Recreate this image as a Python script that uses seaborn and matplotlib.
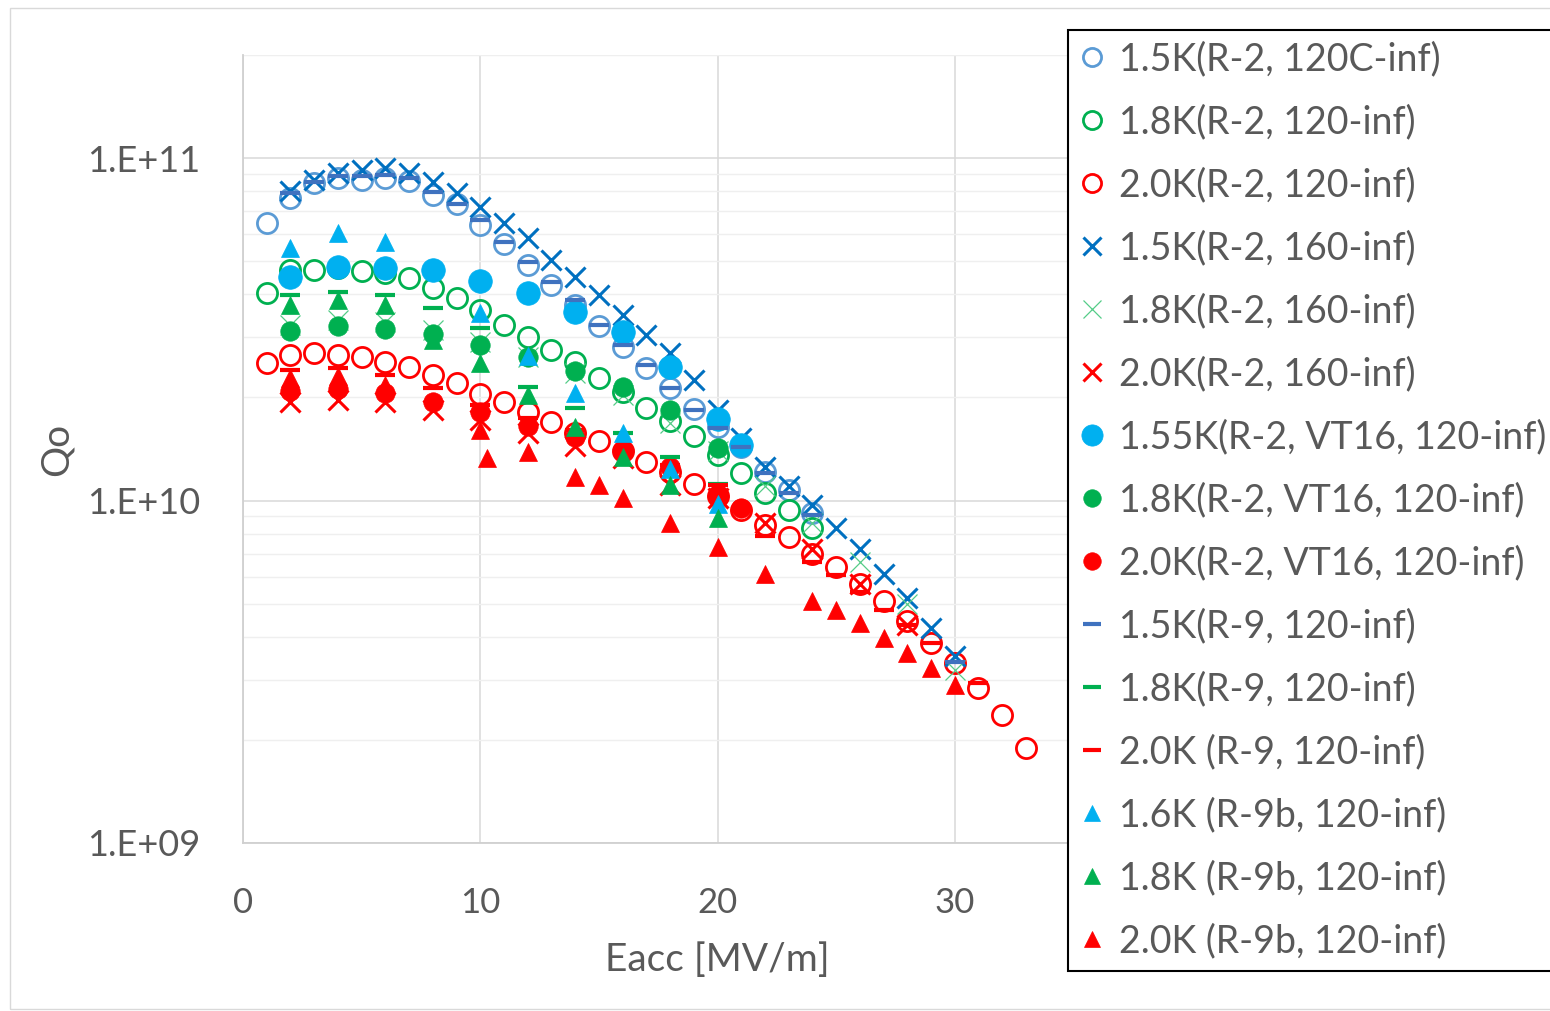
import numpy as np
import pandas as pd
import matplotlib
matplotlib.use("Agg")
import matplotlib.pyplot as plt
import matplotlib.ticker as mticker
from matplotlib.patches import Rectangle
import seaborn as sns

# ---- data (Eacc [MV/m], Qo) ----
r2_15k_120_x = list(range(1, 25))
r2_15k_120_q = [6.46e10, 7.64e10, 8.45e10, 8.74e10, 8.63e10, 8.74e10, 8.57e10, 7.80e10,
                7.34e10, 6.37e10, 5.61e10, 4.87e10, 4.26e10, 3.72e10, 3.23e10, 2.81e10,
                2.44e10, 2.13e10, 1.85e10, 1.64e10, 1.43e10, 1.21e10, 1.07e10, 9.2e9]

r2_18k_120_x = list(range(1, 25))
r2_18k_120_q = [4.03e10, 4.71e10, 4.71e10, 4.77e10, 4.68e10, 4.62e10, 4.46e10, 4.17e10,
                3.90e10, 3.60e10, 3.25e10, 3.00e10, 2.75e10, 2.54e10, 2.28e10, 2.07e10,
                1.86e10, 1.71e10, 1.54e10, 1.36e10, 1.20e10, 1.05e10, 9.4e9, 8.3e9]

r2_20k_120_x = list(range(1, 34))
r2_20k_120_q = [2.52e10, 2.66e10, 2.70e10, 2.66e10, 2.62e10, 2.54e10, 2.45e10, 2.32e10,
                2.20e10, 2.05e10, 1.94e10, 1.81e10, 1.70e10, 1.58e10, 1.49e10, 1.40e10,
                1.30e10, 1.21e10, 1.12e10, 1.03e10, 9.4e9, 8.5e9, 7.8e9, 7.0e9, 6.4e9,
                5.7e9, 5.1e9, 4.45e9, 3.84e9, 3.35e9, 2.84e9, 2.36e9, 1.89e9]

r2_15k_160_x = list(range(2, 31))
r2_15k_160_q = [8.01e10, 8.63e10, 9.04e10, 9.23e10, 9.35e10, 9.04e10, 8.51e10, 7.90e10,
                7.19e10, 6.46e10, 5.84e10, 5.04e10, 4.49e10, 3.98e10, 3.48e10, 3.04e10,
                2.70e10, 2.25e10, 1.84e10, 1.52e10, 1.25e10, 1.10e10, 9.7e9, 8.3e9,
                7.2e9, 6.1e9, 5.2e9, 4.24e9, 3.52e9]

r2_18k_160_x = list(range(2, 31, 2))
r2_18k_160_q = [3.25e10, 3.37e10, 3.32e10, 3.15e10, 2.90e10, 2.62e10, 2.36e10, 2.03e10,
                1.68e10, 1.40e10, 1.10e10, 8.6e9, 6.6e9, 5.0e9, 3.2e9]

r2_20k_160_x = list(range(2, 29, 2))
r2_20k_160_q = [1.94e10, 1.97e10, 1.94e10, 1.84e10, 1.72e10, 1.58e10, 1.44e10, 1.33e10,
                1.11e10, 1.02e10, 8.6e9, 7.2e9, 5.7e9, 4.33e9]

vt16_155k_x = [2, 4, 6, 8, 10, 12, 14, 16, 18, 20, 21]
vt16_155k_q = [4.49e10, 4.81e10, 4.77e10, 4.71e10, 4.37e10, 4.03e10, 3.55e10, 3.10e10,
               2.45e10, 1.73e10, 1.45e10]

vt16_18k_x = [2, 4, 6, 8, 10, 12, 14, 16, 18, 20]
vt16_18k_q = [3.13e10, 3.23e10, 3.17e10, 3.06e10, 2.84e10, 2.62e10, 2.39e10, 2.15e10,
              1.84e10, 1.42e10]

vt16_20k_x = [2, 4, 6, 8, 10, 12, 14, 16, 18, 20, 21]
vt16_20k_q = [2.09e10, 2.12e10, 2.06e10, 1.94e10, 1.81e10, 1.65e10, 1.53e10, 1.40e10,
              1.25e10, 1.04e10, 9.5e9]

r9_15k_x = list(range(2, 25)) + [30]
r9_15k_q = [7.90e10, 8.51e10, 8.86e10, 8.86e10, 8.92e10, 8.74e10, 7.95e10, 7.34e10,
            6.59e10, 5.68e10, 4.97e10, 4.35e10, 3.85e10, 3.25e10, 2.84e10, 2.49e10,
            2.13e10, 1.84e10, 1.63e10, 1.43e10, 1.20e10, 1.05e10, 9.1e9, 3.38e9]

r9_18k_x = [2, 4, 6, 8, 10, 12, 14, 16, 18, 20]
r9_18k_q = [3.98e10, 4.06e10, 3.98e10, 3.65e10, 3.19e10, 2.15e10, 1.86e10, 1.58e10,
            1.34e10, 1.12e10]

r9_20k_x = [2, 4, 6, 8, 10, 12, 14, 16, 18, 20, 22, 24, 25, 26, 27, 28, 29, 31]
r9_20k_q = [2.40e10, 2.44e10, 2.32e10, 2.13e10, 1.90e10, 1.74e10, 1.61e10, 1.40e10,
            1.27e10, 1.11e10, 7.9e9, 6.6e9, 6.06e9, 5.4e9, 4.79e9, 4.33e9, 3.84e9, 2.93e9]

r9b_16k_x = [2, 4, 6, 10, 12, 14, 16, 18, 20]
r9b_16k_q = [5.46e10, 6.04e10, 5.68e10, 3.53e10, 2.64e10, 2.06e10, 1.58e10, 1.24e10, 9.8e9]

r9b_18k_x = [2, 4, 6, 8, 10, 12, 14, 16, 18, 20]
r9b_18k_q = [3.72e10, 3.85e10, 3.72e10, 2.94e10, 2.52e10, 2.03e10, 1.64e10, 1.34e10,
             1.11e10, 8.9e9]

r9b_20k_x = [2, 4, 6, 10, 10.3, 12, 14, 15, 16, 18, 20, 22, 24, 25, 26, 27, 28, 29, 30]
r9b_20k_q = [2.28e10, 2.31e10, 2.17e10, 1.61e10, 1.33e10, 1.39e10, 1.17e10, 1.11e10,
             1.02e10, 8.6e9, 7.3e9, 6.1e9, 5.1e9, 4.79e9, 4.39e9, 3.97e9, 3.59e9,
             3.24e9, 2.89e9]

labels = ["1.5K(R-2, 120C-inf)", "1.8K(R-2, 120-inf)", "2.0K(R-2, 120-inf)",
          "1.5K(R-2, 160-inf)", "1.8K(R-2, 160-inf)", "2.0K(R-2, 160-inf)",
          "1.55K(R-2, VT16, 120-inf)", "1.8K(R-2, VT16, 120-inf)", "2.0K(R-2, VT16, 120-inf)",
          "1.5K(R-9, 120-inf)", "1.8K(R-9, 120-inf)", "2.0K (R-9, 120-inf)",
          "1.6K (R-9b, 120-inf)", "1.8K (R-9b, 120-inf)", "2.0K (R-9b, 120-inf)"]

series = [(r2_15k_120_x, r2_15k_120_q), (r2_18k_120_x, r2_18k_120_q), (r2_20k_120_x, r2_20k_120_q),
          (r2_15k_160_x, r2_15k_160_q), (r2_18k_160_x, r2_18k_160_q), (r2_20k_160_x, r2_20k_160_q),
          (vt16_155k_x, vt16_155k_q), (vt16_18k_x, vt16_18k_q), (vt16_20k_x, vt16_20k_q),
          (r9_15k_x, r9_15k_q), (r9_18k_x, r9_18k_q), (r9_20k_x, r9_20k_q),
          (r9b_16k_x, r9b_16k_q), (r9b_18k_x, r9b_18k_q), (r9b_20k_x, r9b_20k_q)]

BLUE_L = "#5B9BD5"
BLUE = "#0070C0"
BLUE_D = "#3F72BF"
CYAN = "#00B0F0"
GREEN = "#00B050"
GREEN_L = "#55CC88"
RED = "#FF0000"

# marker styles per series: (marker, color, size, filled, edge width)
styles = [("o", BLUE_L, 14.5, False, 2.0), ("o", GREEN, 14.5, False, 2.0), ("o", RED, 14.5, False, 2.0),
          ("x", BLUE, 14.5, False, 2.2), ("x", GREEN_L, 14.5, False, 0.9), ("x", RED, 14.5, False, 2.2),
          ("o", CYAN, 17, True, 0), ("o", GREEN, 14, True, 0), ("o", RED, 14, True, 0),
          ("_", BLUE_D, 15, False, 3.0), ("_", GREEN, 15, False, 3.0), ("_", RED, 15, False, 3.0),
          ("^", CYAN, 13.5, True, 0), ("^", GREEN, 13.5, True, 0), ("^", RED, 13.5, True, 0)]

sns.set_style("white")
plt.rcParams["font.family"] = ["Lato", "DejaVu Sans"]

fig = plt.figure(figsize=(15.5, 10.11), dpi=100)
# plot area runs to Eacc = 40, the legend box covers its right part
ax = fig.add_axes([243 / 1550, 1 - 843 / 1011, (1192 - 243) / 1550, (843 - 55) / 1011])

handles = []
for (xs, qs), (mk, col, ms, filled, mew), lab in zip(series, styles, labels):
    df = pd.DataFrame({"Eacc": xs, "Qo": qs})
    if filled:
        h, = ax.plot(df["Eacc"], df["Qo"], linestyle="none", marker=mk, markersize=ms,
                     markerfacecolor=col, markeredgecolor=col, markeredgewidth=0.5, label=lab)
    elif mk == "o":
        h, = ax.plot(df["Eacc"], df["Qo"], linestyle="none", marker=mk, markersize=ms,
                     markerfacecolor="none", markeredgecolor=col, markeredgewidth=mew, label=lab)
    else:
        h, = ax.plot(df["Eacc"], df["Qo"], linestyle="none", marker=mk, markersize=ms,
                     color=col, markeredgewidth=mew, label=lab)
    handles.append(h)

ax.set_yscale("log")
ax.set_xlim(0, 40)
ax.set_ylim(1e9, 2e11)
ax.set_xticks([0, 10, 20, 30])
ax.yaxis.set_major_locator(mticker.FixedLocator([1e9, 1e10, 1e11]))
ax.yaxis.set_major_formatter(mticker.FuncFormatter(lambda v, p: "1.E+%02d" % round(np.log10(v))))
ax.yaxis.set_minor_locator(mticker.LogLocator(base=10, subs=np.arange(2, 10)))
ax.yaxis.set_minor_formatter(mticker.NullFormatter())

ax.grid(True, which="major", color="#D9D9D9", linewidth=1.1)
ax.grid(True, which="minor", axis="y", color="#EFEFEF", linewidth=1.0)
ax.set_axisbelow(True)

for s in ["top", "right"]:
    ax.spines[s].set_visible(False)
for s in ["left", "bottom"]:
    ax.spines[s].set_color("#D0D0D0")
    ax.spines[s].set_linewidth(1.3)

ax.tick_params(axis="both", which="both", length=0, labelcolor="#595959")
ax.tick_params(axis="x", labelsize=25, pad=32)
ax.tick_params(axis="y", labelsize=26, pad=31)

ax.set_xlabel("Eacc [MV/m]", fontsize=28, color="#595959", labelpad=16)
ax.set_ylabel("Qo", fontsize=28, color="#595959", labelpad=9)

leg = fig.legend(handles=handles, loc="upper left", bbox_to_anchor=(1068 / 1550, 1 - 30 / 1011),
                 borderaxespad=0, fontsize=27, frameon=True, fancybox=False, framealpha=1,
                 edgecolor="black", borderpad=0.3, handlelength=0.7, handletextpad=0.35,
                 labelspacing=0.72, markerscale=0.9)
leg.get_frame().set_linewidth(1.5)
for t in leg.get_texts():
    t.set_color("#595959")

# thin outer chart border
fig.patches.append(Rectangle((10 / 1550, 2 / 1011), 2.0, (1011 - 10) / 1011,
                             transform=fig.transFigure, fill=False,
                             edgecolor="#D9D9D9", linewidth=1.0, zorder=0))

fig.savefig("out.png", dpi=100)
